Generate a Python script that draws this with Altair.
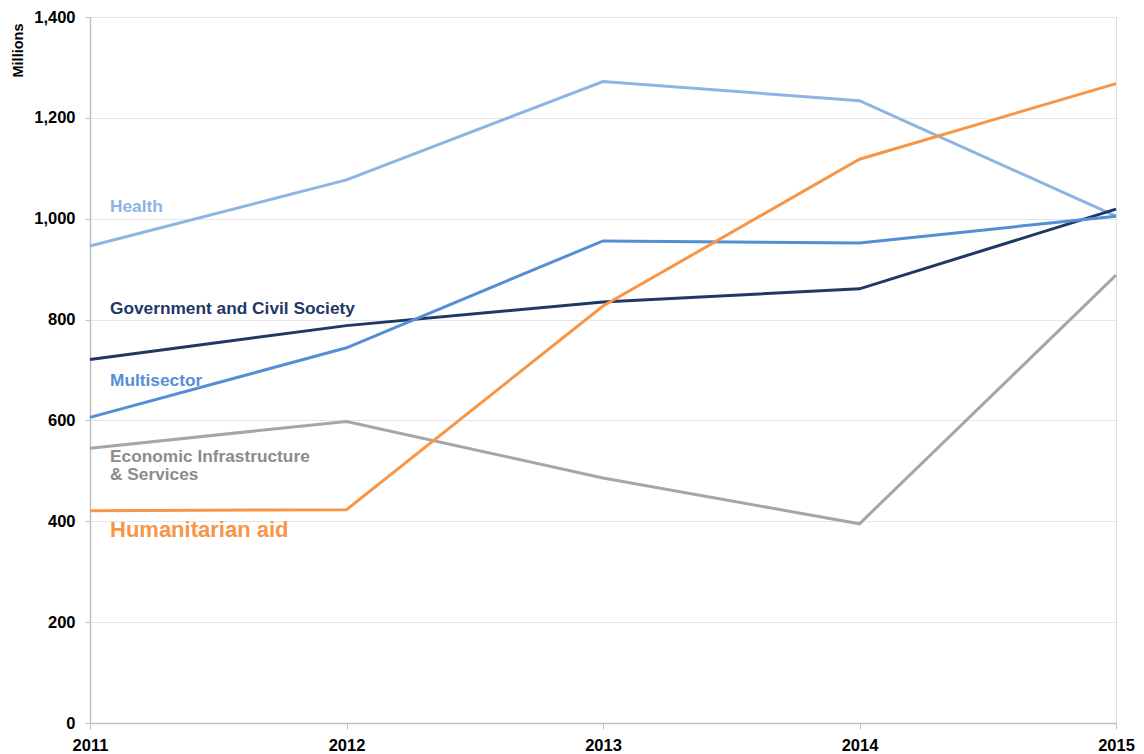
import altair as alt
import pandas as pd

years = [2011, 2012, 2013, 2014, 2015]
health = [946, 1077, 1272, 1234, 1005]
government = [721, 788, 835, 861, 1019]
multisector = [606, 744, 956, 952, 1005]
economic = [545, 598, 486, 395, 888]
humanitarian = [421, 423, 827, 1118, 1268]

series_names = ["Health", "Government and Civil Society", "Multisector",
                "Economic Infrastructure & Services", "Humanitarian aid"]
series_values = [health, government, multisector, economic, humanitarian]
line_colors = ["#8DB4E2", "#1F3864", "#558ED5", "#A6A6A6", "#F79646"]

# in-chart labels (anchored at the 2011 edge, value = vertical anchor)
label_texts = ["Health", "Government and Civil Society", "Multisector",
               "Economic Infrastructure", "& Services", "Humanitarian aid"]
label_values = [1024, 820, 679, 528, 491, 382]
label_series = ["Health", "Government and Civil Society", "Multisector",
                "Economic Infrastructure & Services", "Economic Infrastructure & Services",
                "Humanitarian aid"]

rows = []
for name, vals in zip(series_names, series_values):
    for y, v in zip(years, vals):
        rows.append({"Year": y, "Value": v, "Series": name})
df = pd.DataFrame(rows)

lab = pd.DataFrame({"Year": [years[0]] * len(label_texts), "Value": label_values,
                    "Text": label_texts, "Series": label_series})

FONT = "Liberation Sans"

x = alt.X("Year:Q", scale=alt.Scale(domain=[2011, 2015], nice=False, zero=False),
          axis=alt.Axis(values=years, format="d", title=None, grid=False,
                        labelFontSize=16.5, labelFontWeight="bold", labelColor="#000000",
                        labelFont=FONT, labelPadding=8, tickSize=6, tickColor="#BFBFBF",
                        domainColor="#BFBFBF", domainWidth=1.5, labelFlush=False))
y = alt.Y("Value:Q", scale=alt.Scale(domain=[0, 1400], nice=False),
          axis=alt.Axis(values=list(range(0, 1401, 200)), format=",d", title="Millions",
                        titleFontSize=14.5, titleFontWeight="bold", titleFont=FONT,
                        titleColor="#000000", titleAngle=270, titleX=-72, titleY=6,
                        titleAlign="right", titleBaseline="middle",
                        labelFontSize=16.5, labelFontWeight="bold", labelColor="#000000",
                        labelFont=FONT, labelPadding=10, tickSize=5, tickColor="#BFBFBF",
                        domainColor="#BFBFBF", domainWidth=1.5,
                        gridColor="#E6E6E6", gridWidth=1))

color = alt.Color("Series:N", scale=alt.Scale(domain=series_names, range=line_colors),
                  legend=None)

lines = alt.Chart(df).mark_line(strokeWidth=3).encode(
    x=x, y=y, color=color, detail="Series:N")

text_colors = ["#8DB4E2", "#1F3864", "#558ED5", "#8C8C8C", "#F79646"]
tcolor = alt.Color("Series:N", scale=alt.Scale(domain=series_names, range=text_colors),
                   legend=None)

labels_small = alt.Chart(lab[lab["Text"] != "Humanitarian aid"]).mark_text(
    align="left", baseline="middle", dx=20, fontSize=17.3, fontWeight="bold", font=FONT
).encode(x="Year:Q", y="Value:Q", text="Text:N", color=tcolor)

labels_big = alt.Chart(lab[lab["Text"] == "Humanitarian aid"]).mark_text(
    align="left", baseline="middle", dx=20, fontSize=22, fontWeight="bold", font=FONT
).encode(x="Year:Q", y="Value:Q", text="Text:N", color=tcolor)

chart = alt.layer(lines, labels_small, labels_big).resolve_scale(color="independent").properties(
    width=1026, height=706,
    autosize=alt.AutoSizeParams(type="none"),
    padding={"left": 82, "top": 9, "right": 20, "bottom": 30},
).configure_view(stroke=None).configure(background="white")

chart.save("out.html", embed_options={"renderer": "svg", "actions": False})
